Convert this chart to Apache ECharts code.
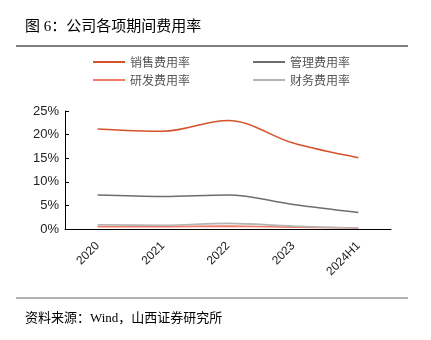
<!DOCTYPE html>
<html><head><meta charset="utf-8">
<script src="https://cdn.jsdelivr.net/npm/echarts@6/dist/echarts.min.js"></script>
<style>html,body{margin:0;padding:0;background:#fff}#c{width:431px;height:340px}</style>
</head><body><div id="c"></div>
<script>
const categories = ['2020','2021','2022','2023','2024H1'];
const salesRate = [21.2, 20.7, 23.0, 18.2, 15.1];
const adminRate = [7.2, 6.9, 7.2, 5.2, 3.5];
const rdRate = [0.5, 0.5, 0.6, 0.4, 0.2];
const financeRate = [0.9, 0.8, 1.2, 0.6, 0.2];
const yTicks = [0, 5, 10, 15, 20, 25];
const titleText = '图 6：公司各项期间费用率';
const sourceText = '资料来源：Wind，山西证券研究所';

const chart = echarts.init(document.getElementById('c'));
const lineIcon = 'rect';
const legendText = {color:'#555', fontSize:12, fontFamily:'Noto Sans CJK SC'};
chart.setOption({
  animation:false,
  backgroundColor:'#fff',
  graphic:[
    {type:'text', left:25, top:20, style:{text:titleText, fontSize:15, fill:'#000', fontFamily:'Liberation Serif, Noto Sans CJK SC'}},
    {type:'line', shape:{x1:16,y1:46,x2:408,y2:46}, style:{stroke:'#000', lineWidth:1}},
    {type:'line', shape:{x1:16,y1:298,x2:408,y2:298}, style:{stroke:'#666', lineWidth:1}},
    {type:'text', left:25, top:312, style:{text:sourceText, fontSize:13, fill:'#000', fontFamily:'Liberation Serif, Noto Sans CJK SC'}}
  ],
  legend:[
    {data:['销售费用率','管理费用率'], left:88, top:51, icon:lineIcon, itemWidth:32, itemHeight:2, itemGap:63, textStyle:legendText},
    {data:['研发费用率','财务费用率'], left:88, top:69, icon:lineIcon, itemWidth:32, itemHeight:2, itemGap:63, textStyle:legendText}
  ],
  grid:{left:65, right:40, top:111, bottom:111, containLabel:false},
  xAxis:{type:'category', data:categories, boundaryGap:true,
    axisLine:{lineStyle:{color:'#000', width:1}},
    axisTick:{inside:true, length:4, lineStyle:{color:'#000'}},
    axisLabel:{rotate:45, color:'#222', fontSize:12, fontFamily:'Liberation Sans', margin:15}},
  yAxis:{type:'value', min:0, max:25, interval:5,
    axisLine:{show:true, lineStyle:{color:'#000', width:1}},
    axisTick:{show:true, inside:true, length:4, lineStyle:{color:'#000'}},
    splitLine:{show:false},
    axisLabel:{formatter:v=>v+'%', color:'#222', fontSize:13, fontFamily:'Liberation Sans', margin:6}},
  series:[
    {name:'销售费用率', type:'line', smooth:0.35, data:salesRate, symbol:'none', lineStyle:{color:'#D6522A', width:1.6}, itemStyle:{color:'#D6522A'}},
    {name:'管理费用率', type:'line', smooth:0.35, data:adminRate, symbol:'none', lineStyle:{color:'#6E6E6E', width:1.6}, itemStyle:{color:'#6E6E6E'}},
    {name:'研发费用率', type:'line', smooth:0.35, data:rdRate, symbol:'none', lineStyle:{color:'#EE7D68', width:1.6}, itemStyle:{color:'#EE7D68'}},
    {name:'财务费用率', type:'line', smooth:0.35, data:financeRate, symbol:'none', lineStyle:{color:'#B4B4B4', width:1.6}, itemStyle:{color:'#B4B4B4'}}
  ]
});
</script></body></html>
